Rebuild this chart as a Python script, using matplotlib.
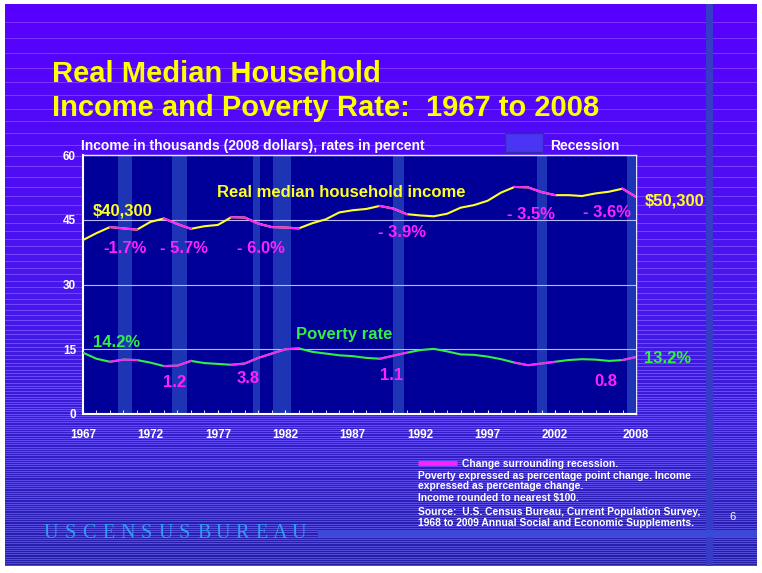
import numpy as np
import matplotlib.pyplot as plt
from matplotlib.patches import Rectangle

# data (income in thousands of 2008 dollars, poverty in percent)
years = np.arange(1967, 2009)
income = np.array([40.3, 41.9, 43.3, 43.0, 42.7, 44.5, 45.3, 44.0, 42.9, 43.5,
                   43.8, 45.6, 45.5, 44.1, 43.3, 43.2, 43.0, 44.2, 45.1, 46.7,
                   47.2, 47.5, 48.2, 47.6, 46.3, 46.0, 45.8, 46.4, 47.8, 48.4,
                   49.4, 51.3, 52.6, 52.5, 51.4, 50.7, 50.7, 50.5, 51.1, 51.5,
                   52.2, 50.3])
poverty = np.array([14.2, 12.8, 12.1, 12.6, 12.5, 11.9, 11.1, 11.2, 12.3, 11.8,
                    11.6, 11.4, 11.7, 13.0, 14.0, 15.0, 15.2, 14.4, 14.0, 13.6,
                    13.4, 13.0, 12.8, 13.5, 14.2, 14.8, 15.1, 14.5, 13.8, 13.7,
                    13.3, 12.7, 11.9, 11.3, 11.7, 12.1, 12.5, 12.7, 12.6, 12.3,
                    12.5, 13.2])
recession_spans = [(1969.6, 1970.6), (1973.6, 1974.7), (1979.6, 1980.1),
                   (1981.1, 1982.4), (1990.0, 1990.8), (2000.65, 2001.4),
                   (2007.3, 2007.9)]
change_spans = [(1969, 1971), (1973, 1975), (1978, 1983), (1989, 1991),
                (1999, 2002), (2007, 2008)]
income_changes = ["-1.7%", "- 5.7%", "- 6.0%", "- 3.9%", "- 3.5%", "- 3.6%"]
poverty_changes = ["1.2", "3.8", "1.1", "0.8"]
year_ticks = [1967, 1972, 1977, 1982, 1987, 1992, 1997, 2002, 2008]
value_ticks = [0, 15, 30, 45, 60]

# where the labels sit (data coordinates)
income_change_pos = [(1968.5, 37.3), (1972.7, 37.3), (1978.4, 37.3),
                     (1988.9, 41.0), (1998.4, 45.2), (2004.1, 45.6)]
poverty_change_pos = [(1972.9, 6.2), (1978.4, 7.1), (1989.0, 7.8), (2004.95, 6.6)]

YELLOW = "#ffff22"
MAGENTA = "#ff22ff"
GREEN = "#33ee44"
FONT = "Liberation Sans"

W, H = 762, 573
fig = plt.figure(figsize=(W / 100, H / 100), dpi=100)

# slide background: purple to navy with fine horizontal lines
yy = np.arange(H)[:, None]
top = np.array([88, 0, 255])
mid = np.array([70, 25, 235])
low = np.array([50, 30, 195])
bot = np.array([35, 30, 165])
t = yy / H
col = np.where(t < 0.55, top + (mid - top) * (t / 0.55),
               np.where(t < 0.8, mid + (low - mid) * ((t - 0.55) / 0.25),
                        low + (bot - low) * ((t - 0.8) / 0.2)))
img = np.repeat(col[:, None, :], W, axis=1)
y = 22.0
while y < H:
    r = int(y)
    img[r, :, :] = np.minimum(img[r, :, :] + 45, 255)
    y += max(2.2, 17 * max(0.0, 1 - y / 520) ** 1.3)
img[:, 706:713] = [55, 60, 200]
img[530:537, 318:757] = [60, 72, 215]
img[:4, :] = 255
img[566:, :] = 255
img[:, :5] = 255
img[:, 757:] = 255
bg = fig.add_axes([0, 0, 1, 1])
bg.imshow(img.astype(np.uint8), extent=[0, W, H, 0], aspect="auto", zorder=0)
bg.set_xlim(0, W)
bg.set_ylim(H, 0)
bg.axis("off")

# title and texts
bg.text(52, 82, "Real Median Household", color="#ffff00", fontsize=21,
        fontweight="bold", family=FONT, va="baseline")
bg.text(52, 116, "Income and Poverty Rate:  1967 to 2008", color="#ffff00",
        fontsize=21, fontweight="bold", family=FONT, va="baseline")
bg.text(81, 150, "Income in thousands (2008 dollars), rates in percent",
        color="white", fontsize=10, fontweight="bold", family=FONT, va="baseline")
bg.add_patch(Rectangle((505, 133), 38, 19, facecolor="#4a35f5",
                       edgecolor="#30309a", lw=1, zorder=2))
bg.text(550, 150, "Recession", color="white", fontsize=10, fontweight="bold",
        family=FONT, va="baseline")

notes = ["Poverty expressed as percentage point change. Income",
         "expressed as percentage change.",
         "Income rounded to nearest $100.",
         "Source:  U.S. Census Bureau, Current Population Survey,",
         "1968 to 2009 Annual Social and Economic Supplements."]
note_y = [476, 486, 498, 512, 523]
bg.plot([418, 457], [463, 463], color=MAGENTA, lw=3.5, solid_capstyle="butt")
bg.text(462, 464, "Change surrounding recession.", color="white", fontsize=7.4,
        fontweight="bold", family=FONT, va="center")
for s, ny in zip(notes, note_y):
    bg.text(418, ny, s, color="white", fontsize=7.4, fontweight="bold",
            family=FONT, va="center")
bg.text(733, 517, "6", color="white", fontsize=8, family=FONT,
        ha="center", va="center")
for i, ch in enumerate("USCENSUSBUREAU"):
    bg.text(51 + i * 19.1, 533, ch, color="#2c9ff0", fontsize=14.5,
            family="Liberation Serif", ha="center", va="center")

# chart
ax = fig.add_axes([83 / W, 1 - 414 / H, 553 / W, 259 / H])
ax.set_facecolor("#000099")
ax.set_xlim(1967, 2008)
ax.set_ylim(0, 60)
for a, b in recession_spans:
    ax.axvspan(a, b, color="#1d35b5", lw=0, zorder=0.5)
ax.set_yticks(value_ticks)
ax.grid(axis="y", color="#b8b8ff", lw=0.8, zorder=1)
ax.set_xticks(year_ticks)
ax.set_xticks(years, minor=True)
ax.tick_params(axis="x", which="both", direction="in", length=3,
               color="white", labelcolor="white", labelsize=8.5, pad=11)
ax.tick_params(axis="y", length=0, labelcolor="white", labelsize=8.5, pad=5)
for lab in ax.get_xticklabels() + ax.get_yticklabels():
    lab.set_fontweight("bold")
    lab.set_family(FONT)
for side in ["left", "bottom"]:
    ax.spines[side].set_color("white")
    ax.spines[side].set_linewidth(1.5)
for side in ["top", "right"]:
    ax.spines[side].set_color("#e8e8ff")
    ax.spines[side].set_linewidth(1.0)

ax.plot(years, income, color=YELLOW, lw=1.5, zorder=3)
ax.plot(years, poverty, color=GREEN, lw=1.5, zorder=3)
for a, b in change_spans:
    m = (years >= a) & (years <= b)
    ax.plot(years[m], income[m], color=MAGENTA, lw=1.5, zorder=4)
    ax.plot(years[m], poverty[m], color=MAGENTA, lw=1.5, zorder=4)

lab_kw = dict(fontsize=12, fontweight="bold", family=FONT, va="baseline",
              clip_on=False, zorder=5)
for s, (x0, y0) in zip(income_changes, income_change_pos):
    ax.text(x0, y0, s, color=MAGENTA, **lab_kw)
for s, (x0, y0) in zip(poverty_changes, poverty_change_pos):
    ax.text(x0, y0, s, color=MAGENTA, **lab_kw)
ax.text(1967.75, 45.9, "$40,300", color=YELLOW, **lab_kw)
ax.text(2008.65, 48.2, "$50,300", color=YELLOW, **lab_kw)
ax.text(1976.9, 50.3, "Real median household income", color=YELLOW, **lab_kw)
ax.text(1967.75, 15.5, "14.2%", color=GREEN, **lab_kw)
ax.text(1982.8, 17.4, "Poverty rate", color=GREEN, **lab_kw)
ax.text(2008.6, 11.8, "13.2%", color=GREEN, **lab_kw)

fig.savefig("out.png", dpi=100)
